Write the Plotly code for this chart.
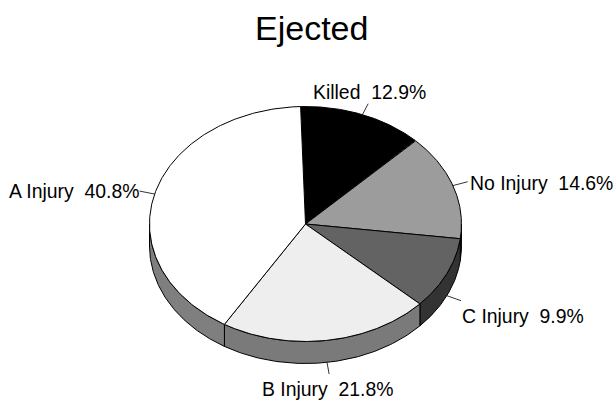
import numpy as np
import plotly.graph_objects as go

# Data
categories = ["Killed", "No Injury", "C Injury", "B Injury", "A Injury"]
percents = [12.9, 14.6, 9.9, 21.8, 40.8]
top_colors = ["#000000", "#9c9c9c", "#636363", "#eeeeee", "#ffffff"]
side_colors = ["#000000", "#4a4a4a", "#333333", "#7a7a7a", "#7f7f7f"]
title = "Ejected"

# Pie geometry in page pixels
W, H = 613, 402
CX, CY, RX, RY, DEPTH = 305.5, 224, 156, 117.5, 22
START_DEG = -1.8
TOTAL = sum(percents)

# Label placement relative to leader-line end: dx, dy, xanchor
label_style = {
    "Killed": (1, -12, "center"),
    "No Injury": (0, 1, "left"),
    "C Injury": (-1, 15, "left"),
    "B Injury": (-1, 15, "center"),
    "A Injury": (1, 0, "right"),
}


def ell(t_deg, scale=1.0, drop=0.0):
    t = np.radians(t_deg)
    return CX + scale * RX * np.sin(t), CY - scale * RY * np.cos(t) + drop


fig = go.Figure()
line = dict(color="#000000", width=1)

edges = np.concatenate([[0], np.cumsum(percents)]) / TOTAL * 360 + START_DEG

# Side wall: the part of each slice on the front half of the ellipse
for i, c in enumerate(categories):
    a0, a1 = edges[i], edges[i + 1]
    lo, hi = max(a0, 90), min(a1, 270)
    if hi <= lo:
        continue
    ts = np.linspace(lo, hi, 90)
    x0, y0 = ell(ts)
    x1, y1 = ell(ts[::-1], drop=DEPTH)
    fig.add_trace(go.Scatter(
        x=np.r_[x0, x1, x0[0]], y=np.r_[y0, y1, y0[0]],
        mode="lines", fill="toself", fillcolor=side_colors[i], line=line,
    ))

# Top faces
for i, c in enumerate(categories):
    ts = np.linspace(edges[i], edges[i + 1], 180)
    x, y = ell(ts)
    fig.add_trace(go.Scatter(
        x=np.r_[CX, x, CX], y=np.r_[CY, y, CY],
        mode="lines", fill="toself", fillcolor=top_colors[i], line=line,
    ))

# Leader lines and labels
annotations = []
for i, c in enumerate(categories):
    mid = (edges[i] + edges[i + 1]) / 2
    drop = DEPTH if np.cos(np.radians(mid)) < 0 else 0
    xa, ya = ell(mid, 1.0, drop)
    xb, yb = ell(mid, 1.1, drop)
    fig.add_trace(go.Scatter(x=[xa, xb], y=[ya, yb], mode="lines",
                             line=dict(color="#000000", width=0.8)))
    dx, dy, anchor = label_style[c]
    annotations.append(dict(
        x=xb + dx, y=yb + dy, xref="x", yref="y", showarrow=False,
        text=f"{c}\u00a0\u00a0{percents[i]:.1f}%", xanchor=anchor, yanchor="middle",
        font=dict(family="Liberation Sans", size=19.4, color="#000000"),
    ))

annotations.append(dict(
    x=311, y=28, xref="x", yref="y", showarrow=False, text=title,
    xanchor="center", yanchor="middle",
    font=dict(family="Liberation Sans", size=34, color="#000000"),
))

fig.update_layout(
    width=W, height=H, margin=dict(l=0, r=0, t=0, b=0),
    paper_bgcolor="white", plot_bgcolor="white", showlegend=False,
    xaxis=dict(range=[0, W], visible=False, fixedrange=True),
    yaxis=dict(range=[H, 0], visible=False, fixedrange=True),
    annotations=annotations, hovermode=False,
)
fig.write_html("out.html", config={"displayModeBar": False},
               post_script="document.body.style.margin='0';document.documentElement.style.overflow='hidden';")
